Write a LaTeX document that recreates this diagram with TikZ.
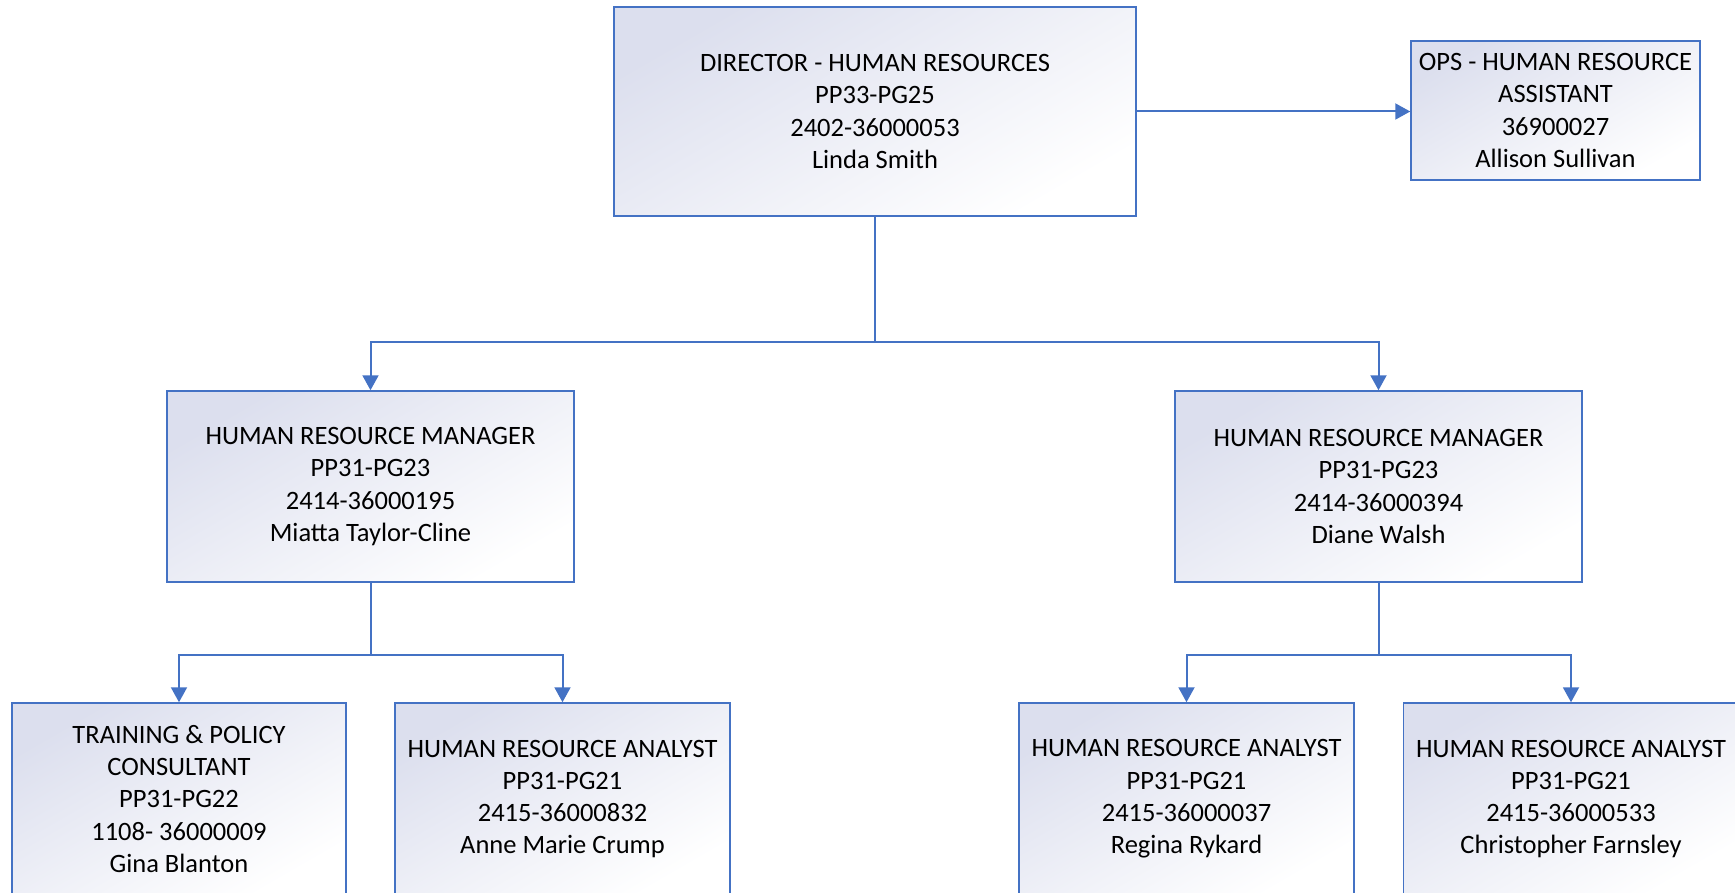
\documentclass[tikz,border=0pt]{standalone}
\usepackage{fontspec}
\setmainfont{Carlito}
\usetikzlibrary{arrows.meta}
\definecolor{lnblue}{HTML}{4472C4}
\definecolor{lav}{HTML}{DCDFEE}
\tikzset{
  box/.style={draw=lnblue, line width=1.5pt, align=center, inner sep=0pt,
    top color=lav, bottom color=white, shading angle=30,
    font=\fontsize{26.5}{32.3}\selectfont, text=black},
  conn/.style={draw=lnblue, line width=2pt},
  arr/.style={conn, -{Triangle[length=15pt,width=16pt]}}
}
\begin{document}
\begin{tikzpicture}[x=1pt,y=-1pt]
\useasboundingbox (0,0) rectangle (1735,893);
\clip (0,0) rectangle (1735,893);
\node[box, minimum width=522pt, minimum height=209pt] (dir) at (875,111.5)
  {DIRECTOR - HUMAN RESOURCES\\PP33-PG25\\2402-36000053\\Linda Smith};
\node[box, minimum width=289pt, minimum height=139pt] (ops) at (1555.5,110.5)
  {OPS - HUMAN RESOURCE\\ASSISTANT\\36900027\\Allison Sullivan};
\node[box, minimum width=407pt, minimum height=191pt] (m1) at (370.5,486.5)
  {HUMAN RESOURCE MANAGER\\PP31-PG23\\2414-36000195\\Miatta Taylor-Cline};
\node[box, minimum width=407pt, minimum height=191pt] (m2) at (1378.5,486.5)
  {HUMAN RESOURCE MANAGER\\PP31-PG23\\2414-36000394\\Diane Walsh};
\node[box, minimum width=334pt, minimum height=192pt] (a1) at (179,799)
  {TRAINING \& POLICY\\CONSULTANT\\PP31-PG22\\1108- 36000009\\Gina Blanton};
\node[box, minimum width=335pt, minimum height=192pt] (a2) at (562.5,799)
  {HUMAN RESOURCE ANALYST\\PP31-PG21\\2415-36000832\\Anne Marie Crump};
\node[box, minimum width=335pt, minimum height=192pt] (a3) at (1186.5,799)
  {HUMAN RESOURCE ANALYST\\PP31-PG21\\2415-36000037\\Regina Rykard};
\node[box, minimum width=335pt, minimum height=192pt] (a4) at (1571,799)
  {HUMAN RESOURCE ANALYST\\PP31-PG21\\2415-36000533\\Christopher Farnsley};
\coordinate (j1) at (875,342);
\coordinate (j2) at (370.5,655);
\coordinate (j3) at (1378.5,655);
\draw[arr] (dir.east) -- (dir.east -| ops.west);
\draw[conn] (dir.south) -- (j1);
\draw[arr] (j1) -| (m1.north);
\draw[arr] (j1) -| (m2.north);
\draw[conn] (m1.south) -- (j2);
\draw[arr] (j2) -| (a1.north);
\draw[arr] (j2) -| (a2.north);
\draw[conn] (m2.south) -- (j3);
\draw[arr] (j3) -| (a3.north);
\draw[arr] (j3) -| (a4.north);
\end{tikzpicture}
\end{document}
